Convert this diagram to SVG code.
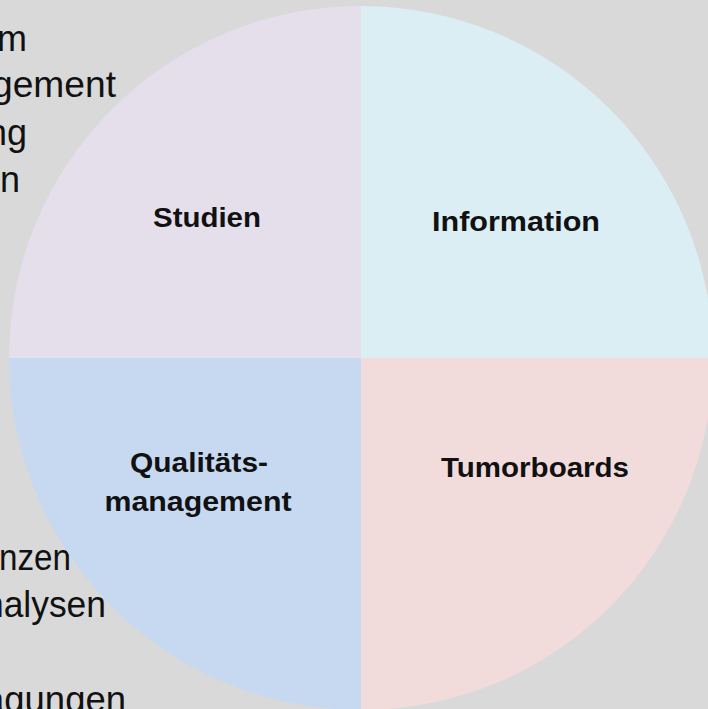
<svg xmlns="http://www.w3.org/2000/svg" width="708" height="709" viewBox="0 0 708 709">
<style>
.side{font-family:"Liberation Sans","Open Sans",sans-serif;font-size:36px;fill:#111;text-anchor:end}
.lbl{font-family:"Liberation Sans","Open Sans",sans-serif;font-size:28px;font-weight:bold;fill:#111;text-anchor:middle}
</style>
<rect width="708" height="709" fill="#d9d9d9"/>
<g id="sidetext">
<text class="side" x="27" y="51">m</text>
<text class="side" x="116" y="97" textLength="124" lengthAdjust="spacingAndGlyphs">gement</text>
<text class="side" x="27" y="145" textLength="40" lengthAdjust="spacingAndGlyphs">ng</text>
<text class="side" x="20" y="192">n</text>
<text class="side" x="71" y="570" textLength="72" lengthAdjust="spacingAndGlyphs">nzen</text>
<text class="side" x="106" y="617" textLength="122" lengthAdjust="spacingAndGlyphs">nalysen</text>
<text class="side" x="126" y="712" textLength="142" lengthAdjust="spacingAndGlyphs">agungen</text>
</g>
<g id="studien">
<path d="M361,358 L361,6 A352,352 0 0 0 9,358 Z" fill="#e5dfec"/>
<text class="lbl" x="207" y="227" textLength="108" lengthAdjust="spacingAndGlyphs">Studien</text>
</g>
<g id="information">
<path d="M361,358 L713,358 A352,352 0 0 0 361,6 Z" fill="#dbeef4"/>
<text class="lbl" x="516" y="231" textLength="168" lengthAdjust="spacingAndGlyphs">Information</text>
</g>
<g id="qualitaetsmanagement">
<path d="M361,358 L9,358 A352,352 0 0 0 361,710 Z" fill="#c6d9f1"/>
<text class="lbl" x="199" y="472" textLength="138" lengthAdjust="spacingAndGlyphs">Qualitäts-</text>
<text class="lbl" x="198" y="511" textLength="187" lengthAdjust="spacingAndGlyphs">management</text>
</g>
<g id="tumorboards">
<path d="M361,358 L361,710 A352,352 0 0 0 713,358 Z" fill="#f2dcdb"/>
<text class="lbl" x="535" y="477" textLength="188" lengthAdjust="spacingAndGlyphs">Tumorboards</text>
</g>
<g id="connectors"/>
</svg>
